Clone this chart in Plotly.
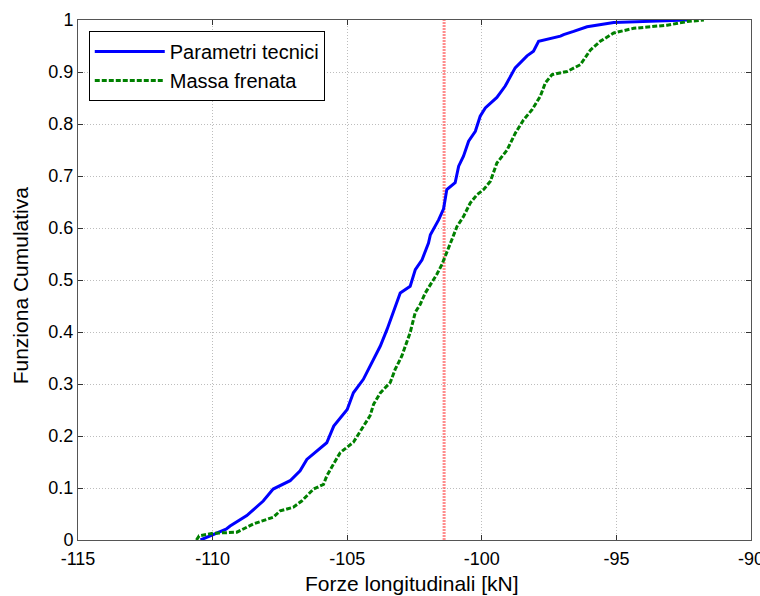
import plotly.graph_objects as go

# Parametri tecnici (blue, solid)
pt_x = [-110.45, -109.5, -109.35, -108.73, -108.12, -107.75, -107.12, -106.75, -106.5,
        -105.76, -105.5, -105.0, -104.77, -104.4, -103.77, -103.52, -103.03, -102.66,
        -102.47, -102.22, -101.98, -101.91, -101.6, -101.42, -101.3, -101.23, -100.99,
        -100.86, -100.68, -100.49, -100.24, -100.06, -99.87, -99.44, -99.13, -98.76,
        -98.32, -98.08, -97.89, -97.08, -96.96, -96.59, -96.09, -95.1, -92.37]
pt_y = [0.0, 0.021, 0.027, 0.047, 0.075, 0.098, 0.114, 0.133, 0.155,
        0.187, 0.219, 0.251, 0.283, 0.309, 0.373, 0.405, 0.475, 0.488,
        0.52, 0.539, 0.571, 0.587, 0.616, 0.637, 0.674, 0.677, 0.687,
        0.719, 0.738, 0.767, 0.786, 0.815, 0.831, 0.851, 0.873, 0.908,
        0.931, 0.94, 0.959, 0.969, 0.972, 0.978, 0.987, 0.995, 1.0]

# Massa frenata (green, dashed)
mf_x = [-110.6, -110.5, -109.97, -109.1, -108.48, -107.74, -107.49, -107.0, -106.69,
        -106.25, -105.88, -105.76, -105.51, -105.26, -104.77, -104.46, -104.15, -104.02,
        -103.77, -103.4, -103.22, -102.97, -102.66, -102.47, -102.29, -102.1, -101.91,
        -101.67, -101.48, -101.3, -101.11, -100.92, -100.68, -100.43, -100.18, -99.93,
        -99.68, -99.44, -99.06, -98.76, -98.45, -98.14, -97.83, -97.64, -97.39, -96.83,
        -96.34, -95.97, -95.6, -95.1, -94.36, -93.12, -92.37, -91.75]
mf_y = [0.0, 0.008, 0.013, 0.015, 0.031, 0.044, 0.056, 0.063, 0.075,
        0.098, 0.107, 0.123, 0.146, 0.168, 0.188, 0.213, 0.239, 0.261,
        0.283, 0.303, 0.328, 0.354, 0.399, 0.438, 0.453, 0.475, 0.491,
        0.511, 0.53, 0.552, 0.578, 0.603, 0.622, 0.648, 0.664, 0.674,
        0.69, 0.725, 0.75, 0.782, 0.808, 0.827, 0.853, 0.879, 0.895, 0.901,
        0.914, 0.942, 0.959, 0.975, 0.984, 0.99, 0.997, 1.0]

# vertical reference line
ref_x = [-101.4, -101.4]
ref_y = [0.0, 1.0]

x_ticks = [-115, -110, -105, -100, -95, -90]
x_labels = ["-115", "-110", "-105", "-100", "-95", "-90"]
y_ticks = [0, 0.1, 0.2, 0.3, 0.4, 0.5, 0.6, 0.7, 0.8, 0.9, 1]
y_labels = ["0", "0.1", "0.2", "0.3", "0.4", "0.5", "0.6", "0.7", "0.8", "0.9", "1"]
x_title = "Forze longitudinali [kN]"
y_title = "Funziona Cumulativa"

fig = go.Figure()
fig.add_trace(go.Scatter(x=ref_x, y=ref_y, mode="lines", showlegend=False,
                         line=dict(color="rgba(255,80,80,0.65)", width=3, dash="2px,1px")))
fig.add_trace(go.Scatter(x=pt_x, y=pt_y, mode="lines", name="Parametri tecnici",
                         line=dict(color="#0000ff", width=3)))
fig.add_trace(go.Scatter(x=mf_x, y=mf_y, mode="lines", name="Massa frenata",
                         line=dict(color="#008000", width=3, dash="5px,2px")))

font_family = "Liberation Sans, Arial, sans-serif"
axis_common = dict(showline=True, linecolor="#555555", linewidth=1, mirror="ticks",
                   ticks="inside", ticklen=5, tickcolor="#333333",
                   showgrid=True, gridcolor="#bdbdbd", griddash="1px,2px", gridwidth=1,
                   zeroline=False, automargin=False, ticklabeloverflow="allow",
                   tickfont=dict(size=18, color="black", family=font_family))

fig.update_xaxes(range=[-115, -90], tickvals=x_ticks, ticktext=x_labels,
                 ticklabelstandoff=2, **axis_common)
fig.update_yaxes(range=[0, 1], tickvals=y_ticks, ticktext=y_labels, **axis_common)

fig.add_annotation(text=x_title, xref="paper", yref="paper", x=0.4965, y=-0.0846,
                   xanchor="center", yanchor="middle", showarrow=False,
                   font=dict(size=21, color="black", family=font_family))
fig.add_annotation(text=y_title, xref="paper", yref="paper", x=-0.086, y=0.49,
                   xanchor="center", yanchor="middle", showarrow=False, textangle=-90,
                   font=dict(size=21, color="black", family=font_family))

fig.update_layout(width=760, height=596, margin=dict(l=78, r=9, t=20, b=56),
                  plot_bgcolor="white", paper_bgcolor="white",
                  font=dict(family=font_family, color="black"),
                  legend=dict(x=0.016, y=0.979, xanchor="left", yanchor="top",
                              bgcolor="white", bordercolor="black", borderwidth=1,
                              itemwidth=70,
                              font=dict(size=20, color="black", family=font_family),
                              tracegroupgap=0))

fig.write_html("out.html", config={"displayModeBar": False},
               post_script="document.body.style.margin='0';document.body.style.overflow='hidden';")
